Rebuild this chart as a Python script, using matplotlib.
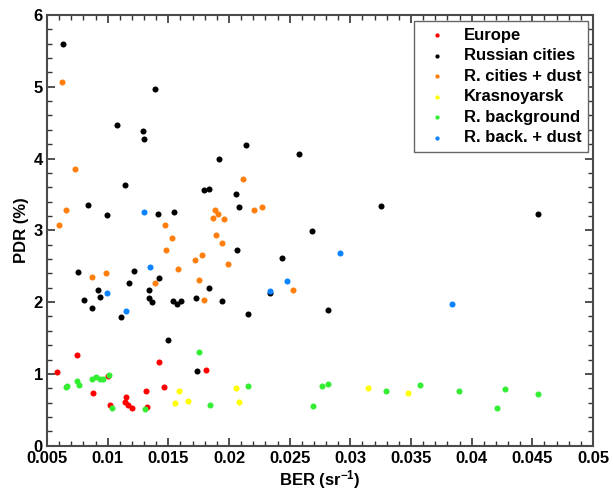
import matplotlib
matplotlib.use("Agg")
import matplotlib.pyplot as plt
from matplotlib.ticker import MultipleLocator, FixedLocator

plt.rcParams['font.family'] = ['Liberation Sans', 'DejaVu Sans']
plt.rcParams['font.weight'] = 'bold'
plt.rcParams['mathtext.fontset'] = 'custom'
plt.rcParams['mathtext.rm'] = 'Liberation Sans:bold'
plt.rcParams['mathtext.bf'] = 'Liberation Sans:bold'
plt.rcParams['mathtext.default'] = 'bf'

# ---- data ----
europe_ber = [0.00585, 0.00750, 0.00879, 0.01005, 0.01019, 0.01149, 0.01145, 0.01170, 0.01200,
              0.01316, 0.01324, 0.01426, 0.01462, 0.01808]
europe_pdr = [1.03, 1.26, 0.73, 0.97, 0.56, 0.68, 0.61, 0.57, 0.525, 0.76, 0.535, 1.16, 0.82, 1.06]

russian_ber = [0.00634, 0.01077, 0.01294, 0.01300, 0.01393, 0.01915, 0.02143, 0.02580,
               0.01140, 0.00840, 0.00997, 0.01412, 0.01544, 0.01797, 0.01835, 0.02055, 0.02085,
               0.02068, 0.00758, 0.01220, 0.01173, 0.01421, 0.00923, 0.00939, 0.00802, 0.00873,
               0.01343, 0.01338, 0.01363, 0.01541, 0.01571, 0.01607, 0.01730, 0.01833, 0.01940,
               0.01107, 0.01500, 0.01736, 0.03250, 0.02684, 0.02439, 0.02338, 0.02157, 0.02818,
               0.04549]
russian_pdr = [5.59, 4.47, 4.39, 4.27, 4.97, 4.00, 4.19, 4.06,
               3.63, 3.35, 3.22, 3.23, 3.25, 3.56, 3.58, 3.50, 3.33,
               2.73, 2.42, 2.44, 2.27, 2.34, 2.17, 2.07, 2.03, 1.92,
               2.17, 2.06, 2.00, 2.01, 1.97, 2.01, 2.06, 2.19, 2.01,
               1.79, 1.47, 1.04, 3.34, 2.99, 2.61, 2.12, 1.84, 1.89,
               3.23]

dust_ber = [0.00621, 0.00731, 0.00657, 0.00599, 0.02113, 0.01882, 0.01907, 0.01871, 0.01956,
            0.02209, 0.02269, 0.01475, 0.01528, 0.01478, 0.01895, 0.01940, 0.01994, 0.00873,
            0.00986, 0.01582, 0.01720, 0.01775, 0.01390, 0.01755, 0.01791, 0.02528]
dust_pdr = [5.07, 3.85, 3.28, 3.07, 3.71, 3.29, 3.23, 3.17, 3.16,
            3.28, 3.32, 3.07, 2.90, 2.72, 2.93, 2.82, 2.53, 2.35,
            2.40, 2.46, 2.58, 2.66, 2.27, 2.31, 2.03, 2.17]

kras_ber = [0.01585, 0.01557, 0.01660, 0.02055, 0.02082, 0.03146, 0.03475]
kras_pdr = [0.76, 0.60, 0.62, 0.81, 0.61, 0.81, 0.73]

back_ber = [0.01753, 0.01014, 0.00659, 0.00667, 0.00745, 0.00761, 0.00873, 0.00904, 0.00937,
            0.00964, 0.01038, 0.01310, 0.01841, 0.02157, 0.02692, 0.02764, 0.02818, 0.03291,
            0.03572, 0.03896, 0.04206, 0.04277, 0.04549]
back_pdr = [1.31, 0.99, 0.82, 0.83, 0.905, 0.85, 0.925, 0.95, 0.925,
            0.925, 0.53, 0.51, 0.57, 0.83, 0.55, 0.83, 0.86, 0.76,
            0.84, 0.76, 0.52, 0.79, 0.72]

backdust_ber = [0.01302, 0.01349, 0.00992, 0.01149, 0.02917, 0.02480, 0.02338, 0.03835]
backdust_pdr = [3.25, 2.49, 2.13, 1.88, 2.68, 2.30, 2.15, 1.97]

labels = ['Europe', 'Russian cities', 'R. cities + dust', 'Krasnoyarsk', 'R. background', 'R. back. + dust']
colors = ['#ff0000', '#000000', '#ff7f0e', '#ffff00', '#33ee33', '#0a84ff']

x_ticks = [0.005, 0.01, 0.015, 0.02, 0.025, 0.03, 0.035, 0.04, 0.045, 0.05]
x_ticklabels = ['0.005', '0.01', '0.015', '0.02', '0.025', '0.03', '0.035', '0.04', '0.045', '0.05']
y_ticks = [0, 1, 2, 3, 4, 5, 6]

fig = plt.figure(figsize=(6.13, 4.93), dpi=100)
ax = fig.add_axes([0.0767, 0.096, 0.8907, 0.8736])

groups = [(europe_ber, europe_pdr), (russian_ber, russian_pdr), (dust_ber, dust_pdr),
          (kras_ber, kras_pdr), (back_ber, back_pdr), (backdust_ber, backdust_pdr)]
for (xs, ys), lab, c in zip(groups, labels, colors):
    ax.scatter(xs, ys, s=19, color=c, label=lab, linewidths=0, zorder=3)

ax.set_xlim(0.005, 0.05)
ax.set_ylim(0, 6)
ax.xaxis.set_major_locator(FixedLocator(x_ticks))
ax.set_xticklabels(x_ticklabels)
ax.xaxis.set_minor_locator(MultipleLocator(0.001))
ax.yaxis.set_major_locator(FixedLocator(y_ticks))
ax.yaxis.set_minor_locator(MultipleLocator(0.2))
ax.tick_params(which='both', direction='in', top=True, right=True, color='#333333')
ax.tick_params(which='major', length=6, width=1.2, labelsize=12)
ax.tick_params(axis='x', which='major', pad=4)
ax.tick_params(axis='y', which='major', pad=3)
ax.tick_params(which='minor', length=3.5, width=1.0)
for lab in ax.get_xticklabels() + ax.get_yticklabels():
    lab.set_fontweight('bold')
for sp in ax.spines.values():
    sp.set_color('#4a4a4a')
    sp.set_linewidth(1.5)

ax.set_xlabel('BER (sr$^{-1}$)', fontsize=12, fontweight='bold', labelpad=1)
ax.set_ylabel('PDR (%)', fontsize=12, fontweight='bold', labelpad=3)

leg = ax.legend(loc='upper right', bbox_to_anchor=(0.9908, 0.986), fancybox=False, edgecolor='#666666',
                framealpha=1, fontsize=12, markerscale=0.7, handletextpad=0.6, borderpad=0.4,
                labelspacing=0.33, handlelength=2.0, borderaxespad=0)
leg.get_frame().set_linewidth(1.0)
for t in leg.get_texts():
    t.set_fontweight('bold')

fig.savefig('out.png', dpi=100)
